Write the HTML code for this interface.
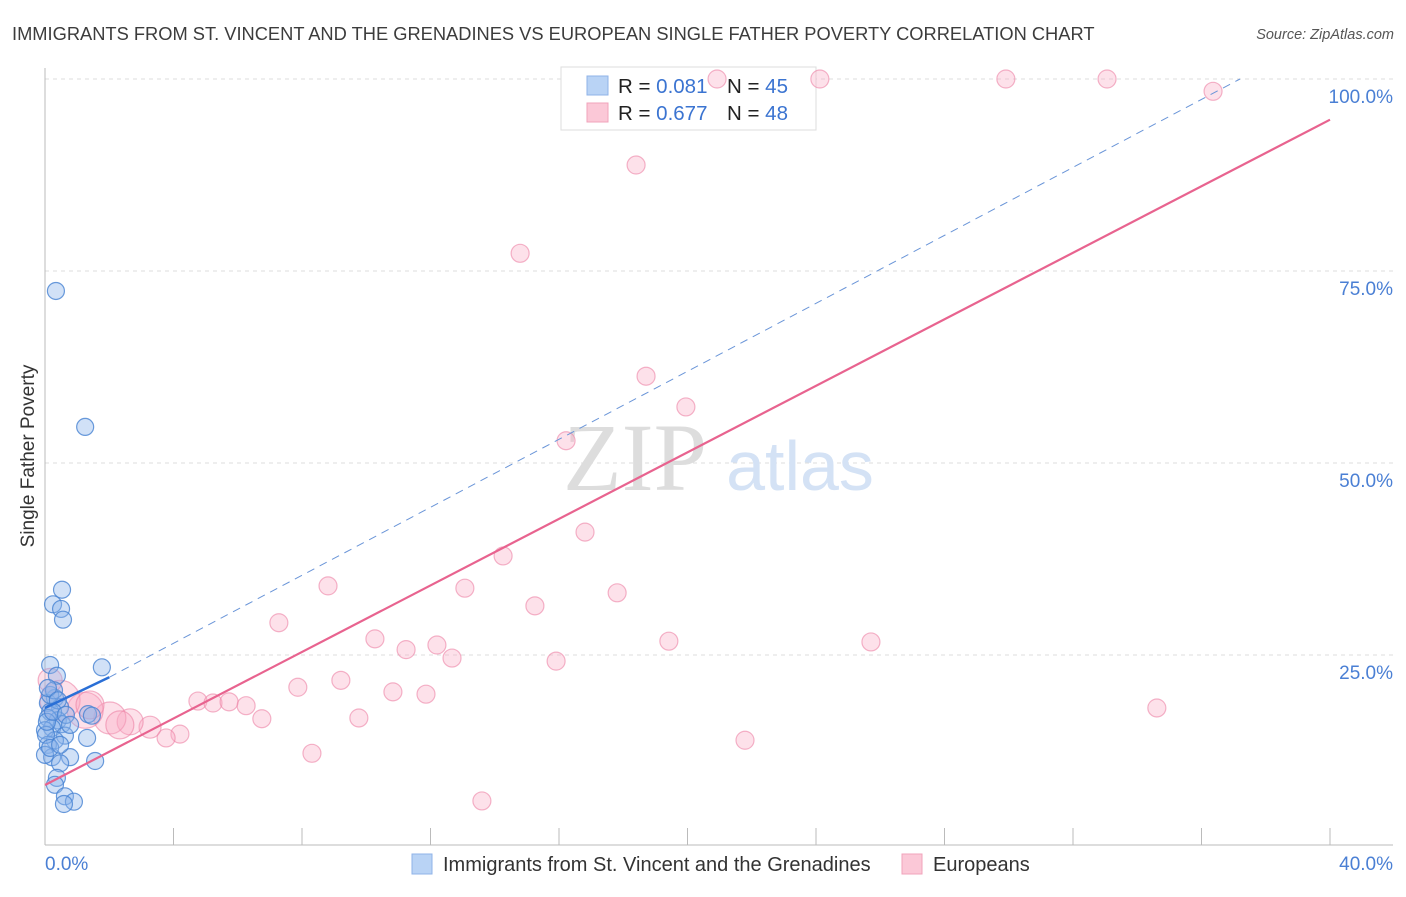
<!DOCTYPE html>
<html><head><meta charset="utf-8"><style>
body{margin:0;background:#fff;font-family:"Liberation Sans",sans-serif}
</style></head><body>
<svg id="c" width="1406" height="892" xmlns="http://www.w3.org/2000/svg">
<text x="12" y="40" font-size="18.3" fill="#3c3c3c">IMMIGRANTS FROM ST. VINCENT AND THE GRENADINES VS EUROPEAN SINGLE FATHER POVERTY CORRELATION CHART</text>
<text x="1394" y="39" font-size="14.5" fill="#555" font-style="italic" text-anchor="end">Source: ZipAtlas.com</text>
<g id="grid"></g>
<text x="635" y="490" font-size="96" fill="#ddd" font-family="Liberation Serif" text-anchor="middle">ZIP</text>
<text x="800" y="490" font-size="70" fill="#d4e2f5" text-anchor="middle">atlas</text>
<g>
<rect x="561" y="67" width="255" height="63" fill="#fff" stroke="#ddd"/>
<rect x="587" y="76" width="21" height="19" fill="#b9d3f5" stroke="#8fb3e8"/>
<rect x="587" y="103" width="21" height="19" fill="#fbc8d7" stroke="#f0a3bb"/>
<text x="618" y="93" font-size="20.5" fill="#222">R = <tspan fill="#3b74d1">0.081</tspan><tspan x="727">N = </tspan><tspan fill="#3b74d1">45</tspan></text>
<text x="618" y="120" font-size="20.5" fill="#222">R = <tspan fill="#3b74d1">0.677</tspan><tspan x="727">N = </tspan><tspan fill="#3b74d1">48</tspan></text>
</g>
<g id="marks"></g>
<text transform="translate(34,456) rotate(-90)" font-size="19" fill="#333" text-anchor="middle">Single Father Poverty</text>
<text x="45" y="870" font-size="19" fill="#4a7fd4">0.0%</text>
<text x="1393" y="870" font-size="19" fill="#4a7fd4" text-anchor="end">40.0%</text>
<g>
<rect x="412" y="854" width="20" height="20" fill="#b9d3f5" stroke="#8fb3e8"/>
<text x="443" y="871" font-size="20" fill="#333">Immigrants from St. Vincent and the Grenadines</text>
<rect x="902" y="854" width="20" height="20" fill="#fbc8d7" stroke="#f0a3bb"/>
<text x="933" y="871" font-size="20" fill="#333">Europeans</text>
</g>
</svg>
<script>
const yTicks=[25,50,75,100];
const yTickLabels=["25.0%","50.0%","75.0%","100.0%"];
const xTicks=[0,4,8,12,16,20,24,28,32,36,40];
const blueX=[0.34,1.25,0.53,0.25,0.50,0.56,1.77,0.16,0.37,0.31,0.09,0.47,0.16,1.34,1.46,0.40,0.09,0.53,0.22,0,0.62,1.31,0.31,0.09,0.78,1.56,0.22,0.47,0,0.37,0.31,0.62,0.90,0.59,0.16,0.28,0.09,0.40,0.03,0.16,0.47,0.06,0.25,0.65,0.78];
const blueY=[72.4,54.7,33.5,31.6,31.0,29.6,23.4,23.7,22.3,19.4,18.75,18.2,17.6,17.3,17.1,16.5,16.8,16.0,15.5,15.2,14.5,14.2,13.9,13.3,11.7,11.2,11.7,10.9,12.0,9.0,8.1,6.6,5.9,5.6,19.8,20.4,20.7,19.1,14.6,12.9,13.3,16.3,17.6,17.2,15.9];
const pinkX=[20.92,24.12,29.91,33.06,36.36,18.40,14.79,18.71,19.95,16.22,16.81,14.26,8.81,13.07,15.25,17.81,7.28,10.27,12.20,11.24,12.67,19.42,25.71,15.91,7.87,9.21,10.83,11.86,4.76,5.23,5.73,6.26,9.77,6.75,34.61,8.31,21.79,13.60,4.20,3.77,3.27,2.65,2.02,1.25,0.47,0.16,1.40,2.33];
const pinkY=[100,100,100,100,98.4,88.8,77.3,61.3,57.3,52.9,41.0,37.9,34.0,33.7,31.4,33.1,29.2,27.1,26.3,25.7,24.6,26.8,26.7,24.2,20.8,21.7,20.2,19.9,19.0,18.75,18.9,18.4,16.8,16.7,18.1,12.2,13.9,6.0,14.7,14.2,15.6,16.3,16.8,17.8,19.1,21.7,18.5,15.9];
const pinkSize=[9,9,9,9,9,9,9,9,9,9,9,9,9,9,9,9,9,9,9,9,9,9,9,9,9,9,9,9,9,9,9,9,9,9,9,9,9,9,9,9,11,13,16,18,20,12,14,14];
const pinkLine=[8.07,94.7];const blueLine=[18.1,22.1];const blueDash=[37.2,100];
const X=v=>45+v*32.125, Y=v=>847-v*7.68;
const NS="http://www.w3.org/2000/svg";
function mk(t,a,p){const e=document.createElementNS(NS,t);for(const k in a)e.setAttribute(k,a[k]);p.appendChild(e);return e;}
const g=document.getElementById('grid'),m=document.getElementById('marks');
yTicks.forEach((t,i)=>{
 const l=mk('line',{x1:45,x2:1393,y1:Y(t),y2:Y(t),stroke:'#ddd','stroke-dasharray':'4,4'},g);
 
 
 const tx=mk('text',{x:1393,y:Y(t)+24,'font-size':19,fill:'#4a7fd4','text-anchor':'end'},g);
 tx.textContent=yTickLabels[i];
 
 
});
const ax=mk('line',{x1:45,x2:45,y1:68,y2:845,stroke:'#bbb'},g);


const bx=mk('line',{x1:45,x2:1393,y1:845,y2:845,stroke:'#bbb'},g);


xTicks.forEach(t=>{const l=mk('line',{x1:X(t),x2:X(t),y1:828,y2:845,stroke:'#bbb'},g);
 
 });
pinkX.forEach((v,i)=>{const c=mk('circle',{cx:X(v),cy:Y(pinkY[i]),r:pinkSize[i],fill:'rgba(248,170,195,0.35)',stroke:'rgba(236,130,165,0.6)','stroke-width':1.2},m);
 
 });
blueX.forEach((v,i)=>{const c=mk('circle',{cx:X(v),cy:Y(blueY[i]),r:8.5,fill:'rgba(140,180,235,0.4)',stroke:'rgba(70,130,210,0.8)','stroke-width':1.2},m);
 
 });
const d=mk('line',{x1:X(2),y1:Y(blueLine[1]),x2:X(blueDash[0]),y2:Y(blueDash[1]),stroke:'#6a95d8','stroke-width':1,'stroke-dasharray':'8,6'},m);


const pl=mk('line',{x1:X(0),y1:Y(pinkLine[0]),x2:X(40),y2:Y(pinkLine[1]),stroke:'#e8638f','stroke-width':2.2},m);


const bl=mk('line',{x1:X(0),y1:Y(blueLine[0]),x2:X(2),y2:Y(blueLine[1]),stroke:'#2a6fd6','stroke-width':2.5},m);


</script>
</body></html>
